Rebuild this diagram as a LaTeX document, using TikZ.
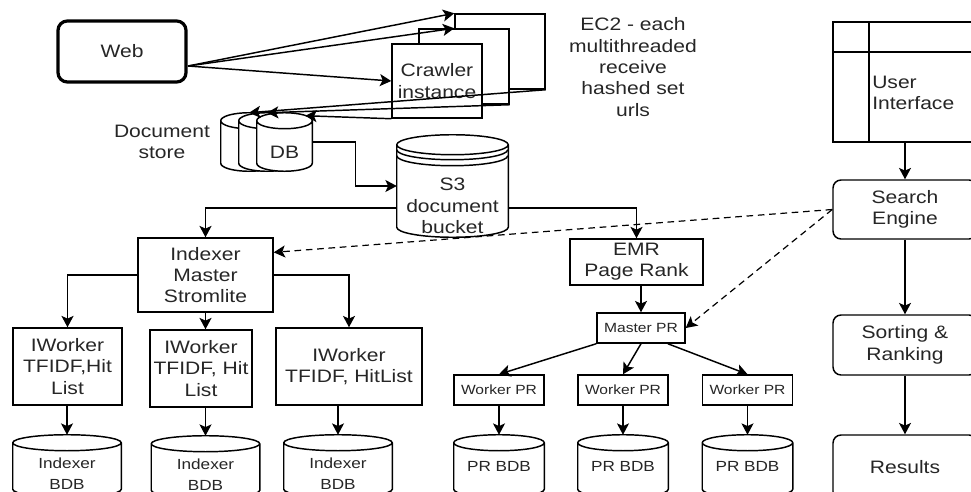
\documentclass[tikz,border=0pt]{standalone}
\usepackage{fontspec}
\setmainfont{Liberation Sans}[FakeStretch=1.17]
\usetikzlibrary{arrows.meta}
\usetikzlibrary{positioning,calc}

\tikzset{
  arr/.style={-{Stealth[length=8.5pt,width=9pt,inset=2pt]},line width=1.1pt},
  dasharr/.style={arr,line width=0.9pt,dash pattern=on 5pt off 3.5pt},
  wh/.style 2 args={minimum width=#1*0.75pt,minimum height=#2*0.75pt},
  box/.style={draw,line width=1.1pt,fill=white,inner sep=0pt,align=center,
    font=\fontsize{13.5}{16}\selectfont,text=black!85},
  rbox/.style={box,rounded corners=6pt},
  smallbox/.style={box,font=\fontsize{10}{12}\selectfont},
  dbnode/.style={inner sep=0pt},
  dbtxt/.style={inner sep=0pt,align=center,font=\fontsize{11}{15.5}\selectfont,text=black!85},
  txt/.style={inner sep=0pt,align=center,font=\fontsize{13.5}{16}\selectfont,text=black!85},
}

% cylinder outline round a node
\newcommand{\dbdrum}[2][6pt]{%
  \draw[line width=1.1pt,fill=white] let \p1=(#2.north west), \p2=(#2.south east),
    \n1={(\x2-\x1)/2} in
    (\x1,\y1-#1) -- (\x1,\y2+#1) arc[start angle=180,end angle=360,x radius=\n1,y radius=#1]
    -- (\x2,\y1-#1) arc[start angle=0,end angle=180,x radius=\n1,y radius=#1] -- cycle
    (\x1,\y1-#1) arc[start angle=180,end angle=360,x radius=\n1,y radius=#1];
}

\begin{document}
\begin{tikzpicture}[x=0.75pt,y=-0.75pt]
\useasboundingbox (0,0) rectangle (971,492);
\clip (0,0) rectangle (971,492);

% crawling
\node[rbox,line width=2.4pt,rounded corners=7pt,wh={128}{61}] (web) at (122,51.5) {Web};
\node[box,wh={90}{75}] (cr3) at (500,51.5) {};
\node[box,wh={90}{75}] (cr2) at (464,66.5) {};
\node[box,wh={90}{74}] (cr1) at (437,81) {Crawler\\instance};
\coordinate (webout) at (188,66);
\draw[arr] (webout) -- (cr3.north west);
\draw[arr] (webout) -- (cr3.west |- cr2.north);
\draw[arr] (webout) -- (cr1.west);
\node[txt] (ec2) at (633,67) {EC2 - each\\multithreaded\\receive\\hashed set\\urls};

% document store
\node[txt] (store) at (162,142) {Document\\store};
\node[dbnode,wh={56}{58}] (doc1) at (249,142) {};
\dbdrum{doc1}
\node[dbnode,wh={56}{58}] (doc2) at (267,142) {};
\dbdrum{doc2}
\node[dbnode,wh={55}{58}] (db) at (284.5,142) {};
\dbdrum{db}
\node[txt] (dbname) at ($(db.center)+(0,10)$) {DB};
\draw[arr] (cr3.south east) -- (doc1.north);
\draw[arr] (cr2.south east) -- (doc2.north);
\draw[arr] (cr1.south west) -- ($(db.north)!0.75!(db.north east)+(0,3)$);

% s3
\node[dbnode,wh={111}{102}] (s3) at (452.5,186) {};
\dbdrum[7.5pt]{s3}
\draw[line width=1.1pt] ([yshift=-11.25pt]s3.north west) arc[start angle=180,end angle=360,x radius=41.625pt,y radius=7.5pt]
  ([yshift=-15.75pt]s3.north west) arc[start angle=180,end angle=360,x radius=41.625pt,y radius=7.5pt];
\node[txt] (s3name) at ($(s3.center)+(0,20)$) {S3\\document\\bucket};
\draw[arr] (db.east) -- ++(43,0) |- (s3.west);

% indexer
\node[box,wh={135}{74}] (idx) at (205.5,275) {Indexer\\Master\\Stromlite};
\node[box,wh={109}{77}] (iw1) at (67.5,366.5) {IWorker\\TFIDF,Hit\\List};
\node[box,wh={102}{77}] (iw2) at (201,368.5) {IWorker\\TFIDF, Hit\\List};
\node[box,wh={146}{77}] (iw3) at (349,366.5) {IWorker\\TFIDF, HitList};
\draw[arr] (s3.west) ++(0,22) -| (idx.north);
\draw[arr] (idx.west) -| (iw1.north);
\draw[arr] (idx.south) -- (idx.south |- iw2.north);
\draw[arr] (idx.east) -| (iw3.north);
\foreach \i/\x/\y in {1/67/466,2/205.5/467,3/338/466}{
  \node[dbnode,wh={108}{62}] (ib\i) at (\x,\y) {};
  \dbdrum{ib\i}
  \node[dbtxt] (ibname\i) at ($(ib\i.center)+(0,8)$) {Indexer\\BDB};
  \draw[arr] (ib\i.north |- iw\i.south) -- (ib\i.north);
}

% page rank
\node[box,wh={133}{46}] (emr) at (636.5,262) {EMR\\Page Rank};
\node[smallbox,wh={88}{30}] (mpr) at (641,328) {Master PR};
\draw[arr] (s3.east) ++(0,22) -| (emr.north);
\draw[arr] (mpr.north |- emr.south) -- (mpr.north);
\foreach \i/\x in {1/499,2/623,3/747.5}{
  \node[smallbox,wh={90}{30}] (wp\i) at (\x,390) {Worker PR};
  \node[dbnode,wh={90}{62}] (pr\i) at (\x,466) {};
  \dbdrum{pr\i}
  \node[dbtxt] (prname\i) at (pr\i.center) {PR BDB};
  \draw[arr] (wp\i) -- (pr\i.north);
}
\draw[arr] (mpr.south west) -- (wp1.north);
\draw[arr] (mpr.south) -- (wp2.north);
\draw[arr] ($(mpr.south)!0.6!(mpr.south east)$) -- (wp3.north);

% search side
\node[box,wh={144}{120}] (ui) at (905,82) {};
\draw[line width=1.1pt] (869,0 |- ui.north) -- (869,0 |- ui.south);
\draw[line width=1.1pt] (ui.west |- 0,52) -- (ui.east |- 0,52);
\node[txt,align=left,anchor=west] (uiname) at (872,93) {User\\Interface};
\node[rbox,wh={144}{59}] (se) at (905,209.5) {Search\\Engine};
\node[rbox,wh={144}{60}] (sr) at (905,345) {Sorting \&\\Ranking};
\node[rbox,wh={144}{65}] (res) at (905,467.5) {Results};
\draw[arr] (ui.south) -- (se.north);
\draw[arr] (se.south) -- (sr.north);
\draw[arr] (sr.south) -- (res.north);
\draw[dasharr] (se.west) -- ($(idx.north east)!0.2!(idx.south east)$);
\draw[dasharr] (se.west) -- (mpr.east);
\end{tikzpicture}
\end{document}
